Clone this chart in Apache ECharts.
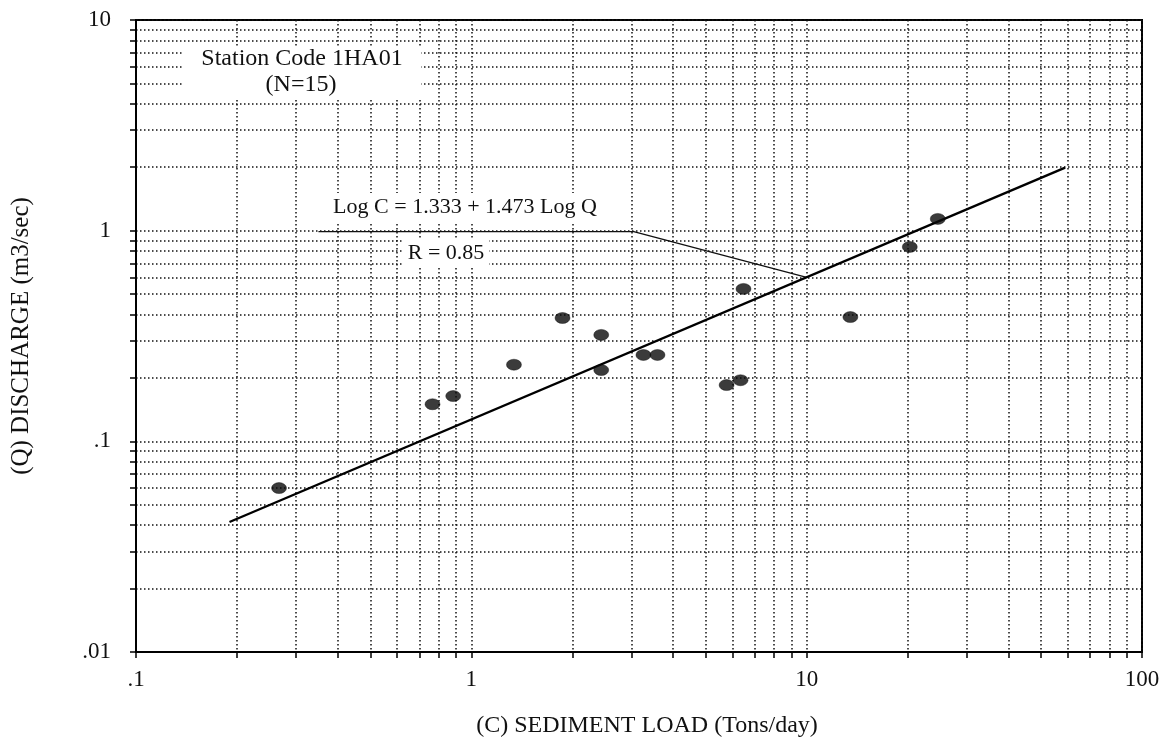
<!DOCTYPE html>
<html>
<head>
<meta charset="utf-8">
<script src="https://cdn.jsdelivr.net/npm/echarts@6/dist/echarts.min.js"></script>
<style>html,body{margin:0;padding:0;background:#fff;}#chart{width:1171px;height:749px;}</style>
</head>
<body>
<div id="chart"></div>
<script>
// ---- data ----
var sedimentLoad = [0.267, 0.766, 0.883, 1.34, 1.87, 2.44, 2.44, 3.26, 3.59, 5.77, 6.35, 6.48, 13.5, 20.3, 24.6];
var discharge    = [0.060, 0.150, 0.164, 0.231, 0.385, 0.320, 0.218, 0.257, 0.257, 0.185, 0.195, 0.529, 0.389, 0.837, 1.137];
var fitLineX = [0.19, 59];
var fitLineY = [0.0414, 1.99];
var leaderX = [0.35, 3.05, 10];
var leaderY = [0.99, 0.99, 0.6];
var xTickLabels = ['.1', '1', '10', '100'];
var xTickValues = [0.1, 1, 10, 100];
var yTickLabels = ['.01', '.1', '1', '10'];
var yTickValues = [0.01, 0.1, 1, 10];
var xGridValues = [0.1,0.2,0.3,0.4,0.5,0.6,0.7,0.8,0.9,1,2,3,4,5,6,7,8,9,10,20,30,40,50,60,70,80,90,100];
var yGridValues = [0.01,0.02,0.03,0.04,0.05,0.06,0.07,0.08,0.09,0.1,0.2,0.3,0.4,0.5,0.6,0.7,0.8,0.9,1,2,3,4,5,6,7,8,9,10];

var FONT = 'Liberation Serif';
var points = sedimentLoad.map(function (x, i) { return [x, discharge[i]]; });
var fit = fitLineX.map(function (x, i) { return [x, fitLineY[i]]; });
var leader = leaderX.map(function (x, i) { return [x, leaderY[i]]; });

function labelFor(values, labels) {
  return function (v) {
    for (var i = 0; i < values.length; i++) {
      if (Math.abs(v - values[i]) / values[i] < 1e-6) return labels[i];
    }
    return '';
  };
}

var gridLine = { show: true, lineStyle: { color: '#111', width: 1.5, type: [1.5, 2.5] } };

var chart = echarts.init(document.getElementById('chart'), null, { renderer: 'canvas' });
chart.setOption({
  backgroundColor: '#fff',
  animation: false,
  grid: { left: 136, right: 29, top: 20, bottom: 97, show: true, borderColor: '#000', borderWidth: 2, backgroundColor: 'transparent' },
  xAxis: {
    type: 'log', logBase: 10, min: 0.1, max: 100,
    name: '(C) SEDIMENT LOAD (Tons/day)', nameLocation: 'middle', nameGap: 62,
    nameTextStyle: { fontFamily: FONT, fontSize: 24, color: '#111', padding: [0, 0, 0, 16] },
    axisLine: { show: true, lineStyle: { color: '#000', width: 2 } },
    axisTick: { show: true, inside: false, length: 6, lineStyle: { color: '#000', width: 1.5 }, customValues: xGridValues },
    axisLabel: { fontFamily: FONT, fontSize: 23, color: '#111', margin: 16, customValues: xTickValues, formatter: labelFor(xTickValues, xTickLabels) },
    splitLine: gridLine,
    minorTick: { show: false }, minorSplitLine: { show: false }
  },
  yAxis: {
    type: 'log', logBase: 10, min: 0.01, max: 10,
    name: '(Q) DISCHARGE (m3/sec)', nameLocation: 'middle', nameGap: 102, nameRotate: 90,
    nameTextStyle: { fontFamily: FONT, fontSize: 25, color: '#111' },
    axisLine: { show: true, lineStyle: { color: '#000', width: 2 } },
    axisTick: { show: true, inside: false, length: 6, lineStyle: { color: '#000', width: 1.5 }, customValues: yGridValues },
    axisLabel: { fontFamily: FONT, fontSize: 23, color: '#111', margin: 25, customValues: yTickValues, formatter: labelFor(yTickValues, yTickLabels) },
    splitLine: gridLine,
    minorTick: { show: false }, minorSplitLine: { show: false }
  },
  series: [
    {
      type: 'line', data: leader, symbol: 'none', silent: true, z: 3,
      lineStyle: { color: '#111', width: 1.4 }
    },
    {
      type: 'line', data: fit, symbol: 'none', silent: true, z: 4,
      lineStyle: { color: '#000', width: 2.4 }
    },
    {
      type: 'scatter', data: points, symbol: 'circle', symbolSize: [15, 11], z: 5,
      itemStyle: { color: '#0a0a0a', borderColor: '#000', borderWidth: 0.5 }
    }
  ],
  graphic: [
    { type: 'rect', shape: { x: 183, y: 47, width: 238, height: 53 }, style: { fill: '#fff' }, z: 10 },
    { type: 'text', x: 302, y: 59, style: { text: 'Station Code 1HA01', font: '24px "Liberation Serif"', fill: '#111', align: 'center', verticalAlign: 'middle' }, z: 11 },
    { type: 'text', x: 301, y: 85, style: { text: '(N=15)', font: '24px "Liberation Serif"', fill: '#111', align: 'center', verticalAlign: 'middle' }, z: 11 },
    { type: 'rect', shape: { x: 326, y: 193, width: 278, height: 30 }, style: { fill: '#fff' }, z: 10 },
    { type: 'text', x: 465, y: 207, style: { text: 'Log C = 1.333 + 1.473 Log Q', font: '22px "Liberation Serif"', fill: '#111', align: 'center', verticalAlign: 'middle' }, z: 11 },
    { type: 'rect', shape: { x: 403, y: 240, width: 86, height: 26 }, style: { fill: '#fff' }, z: 10 },
    { type: 'text', x: 446, y: 253, style: { text: 'R = 0.85', font: '22px "Liberation Serif"', fill: '#111', align: 'center', verticalAlign: 'middle' }, z: 11 }
  ]
});
</script>
</body>
</html>
